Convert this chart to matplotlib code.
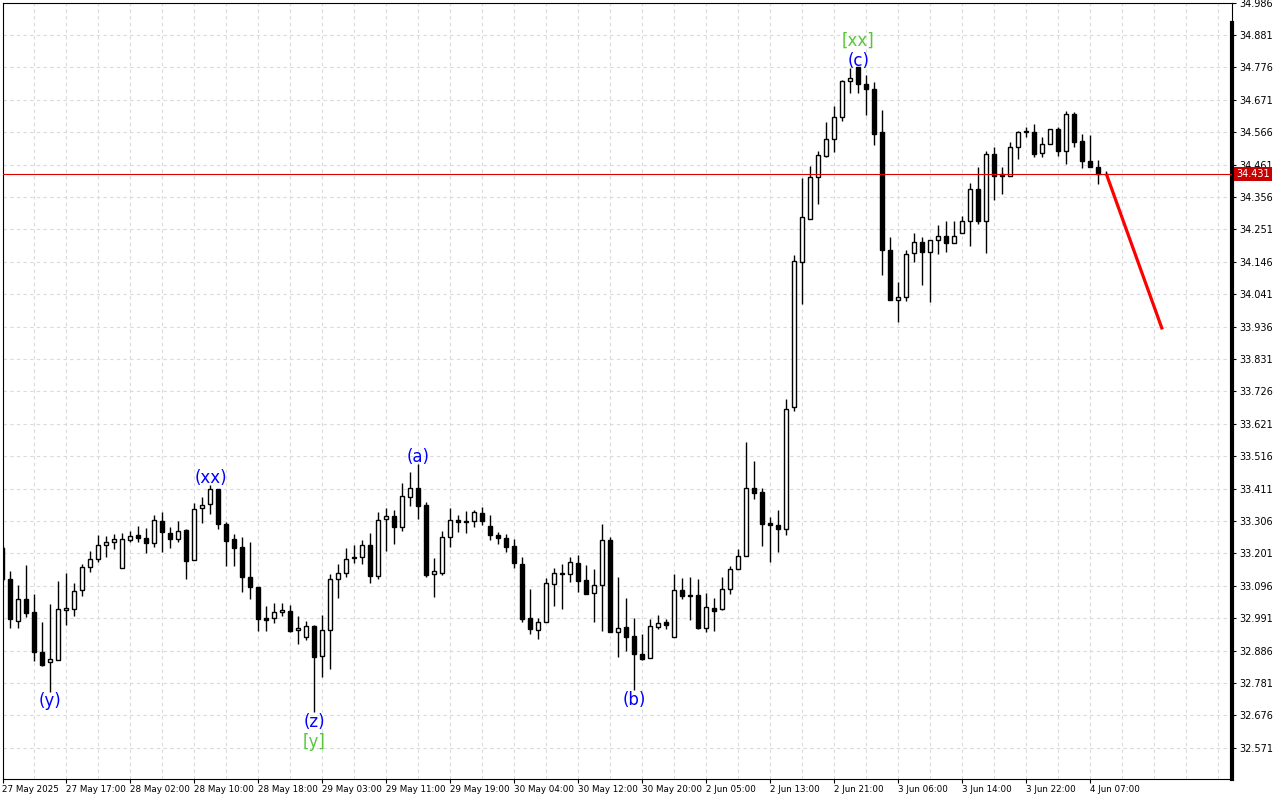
import matplotlib
matplotlib.use('Agg')
import matplotlib.pyplot as plt
from matplotlib.lines import Line2D
from matplotlib.transforms import blended_transform_factory

# hourly candles (price units)
opens = [33.218, 33.118, 32.981, 33.052, 33.010, 32.882, 32.848, 32.857, 33.017, 33.022,
         33.081, 33.156, 33.182, 33.227, 33.238, 33.153, 33.245, 33.260, 33.250, 33.234,
         33.305, 33.267, 33.247, 33.278, 33.179, 33.347, 33.361, 33.409, 33.295, 33.248,
         33.221, 33.125, 33.091, 32.991, 32.992, 33.010, 33.013, 32.952, 32.929, 32.965,
         32.868, 32.952, 33.117, 33.137, 33.189, 33.190, 33.227, 33.129, 33.312, 33.321,
         33.286, 33.384, 33.412, 33.357, 33.133, 33.138, 33.253, 33.308, 33.306, 33.306,
         33.332, 33.289, 33.260, 33.250, 33.224, 33.167, 32.991, 32.952, 32.980, 33.101,
         33.135, 33.134, 33.169, 33.114, 33.074, 33.098, 33.244, 32.945, 32.962, 32.932,
         32.874, 32.861, 32.964, 32.979, 32.929, 33.081, 33.066, 33.065, 32.960, 33.024,
         33.022, 33.085, 33.150, 33.192, 33.412, 33.399, 33.299, 33.292, 33.279, 33.674,
         34.144, 34.284, 34.420, 34.490, 34.543, 34.614, 34.731, 34.776, 34.724, 34.705,
         34.566, 34.183, 34.022, 34.031, 34.174, 34.209, 34.177, 34.216, 34.231, 34.206,
         34.238, 34.280, 34.381, 34.277, 34.494, 34.430, 34.424, 34.517, 34.566, 34.566,
         34.499, 34.527, 34.576, 34.504, 34.624, 34.537, 34.472, 34.453, 34.431]
highs = [33.225, 33.144, 33.099, 33.163, 33.069, 32.979, 33.037, 33.112, 33.137, 33.106,
         33.167, 33.210, 33.261, 33.258, 33.264, 33.268, 33.274, 33.290, 33.282, 33.325,
         33.334, 33.287, 33.306, 33.280, 33.363, 33.383, 33.423, 33.410, 33.302, 33.264,
         33.253, 33.238, 33.091, 33.032, 33.039, 33.039, 33.034, 32.998, 32.981, 32.968,
         33.000, 33.133, 33.166, 33.219, 33.227, 33.244, 33.266, 33.335, 33.347, 33.342,
         33.430, 33.465, 33.490, 33.367, 33.185, 33.275, 33.347, 33.325, 33.338, 33.342,
         33.351, 33.325, 33.270, 33.264, 33.249, 33.188, 33.086, 32.993, 33.121, 33.153,
         33.167, 33.188, 33.196, 33.163, 33.150, 33.296, 33.254, 33.125, 33.056, 32.992,
         32.939, 32.988, 33.001, 32.988, 33.135, 33.120, 33.124, 33.117, 33.072, 33.056,
         33.125, 33.160, 33.215, 33.563, 33.500, 33.412, 33.319, 33.342, 33.701, 34.168,
         34.418, 34.456, 34.505, 34.600, 34.651, 34.735, 34.773, 34.776, 34.751, 34.729,
         34.638, 34.226, 34.080, 34.184, 34.239, 34.225, 34.216, 34.265, 34.280, 34.278,
         34.294, 34.401, 34.454, 34.504, 34.519, 34.453, 34.533, 34.571, 34.584, 34.594,
         34.550, 34.576, 34.582, 34.636, 34.631, 34.560, 34.556, 34.476, 34.440]
lows = [33.112, 32.960, 32.960, 32.994, 32.852, 32.837, 32.753, 32.857, 32.970, 32.998,
        33.064, 33.140, 33.174, 33.188, 33.214, 33.153, 33.237, 33.237, 33.203, 33.221,
        33.205, 33.220, 33.239, 33.117, 33.179, 33.299, 33.328, 33.279, 33.161, 33.161,
        33.075, 33.052, 32.951, 32.951, 32.975, 32.998, 32.947, 32.906, 32.920, 32.687,
        32.801, 32.827, 33.057, 33.124, 33.169, 33.166, 33.106, 33.117, 33.208, 33.231,
        33.275, 33.354, 33.312, 33.124, 33.059, 33.132, 33.223, 33.269, 33.266, 33.288,
        33.292, 33.245, 33.232, 33.207, 33.154, 32.978, 32.941, 32.924, 32.978, 33.030,
        33.022, 33.109, 33.077, 33.070, 32.979, 32.950, 32.945, 32.866, 32.885, 32.758,
        32.857, 32.861, 32.955, 32.957, 32.929, 33.054, 32.986, 32.957, 32.947, 32.951,
        33.019, 33.069, 33.150, 33.192, 33.376, 33.226, 33.174, 33.207, 33.261, 33.663,
        34.009, 34.284, 34.332, 34.487, 34.501, 34.603, 34.692, 34.694, 34.623, 34.524,
        34.104, 34.021, 33.952, 34.020, 34.146, 34.071, 34.017, 34.170, 34.179, 34.206,
        34.238, 34.198, 34.268, 34.174, 34.345, 34.366, 34.424, 34.478, 34.550, 34.485,
        34.485, 34.527, 34.488, 34.463, 34.518, 34.451, 34.452, 34.400, 34.431]
closes = [33.117, 32.987, 33.052, 33.009, 32.882, 32.840, 32.858, 33.020, 33.024, 33.078,
          33.156, 33.182, 33.227, 33.238, 33.249, 33.247, 33.258, 33.250, 33.234, 33.308,
          33.269, 33.247, 33.274, 33.175, 33.344, 33.357, 33.409, 33.295, 33.240, 33.220,
          33.126, 33.091, 32.987, 32.986, 33.010, 33.017, 32.951, 32.958, 32.965, 32.866,
          32.952, 33.117, 33.137, 33.183, 33.185, 33.227, 33.129, 33.308, 33.321, 33.286,
          33.386, 33.412, 33.354, 33.132, 33.143, 33.253, 33.308, 33.302, 33.303, 33.335,
          33.305, 33.260, 33.250, 33.223, 33.169, 32.989, 32.955, 32.980, 33.104, 33.137,
          33.138, 33.172, 33.113, 33.070, 33.098, 33.244, 32.945, 32.958, 32.929, 32.874,
          32.860, 32.965, 32.975, 32.970, 33.081, 33.064, 33.063, 32.959, 33.026, 33.015,
          33.085, 33.150, 33.192, 33.412, 33.398, 33.298, 33.293, 33.279, 33.668, 34.148,
          34.290, 34.420, 34.491, 34.544, 34.614, 34.732, 34.741, 34.724, 34.705, 34.562,
          34.183, 34.021, 34.031, 34.170, 34.209, 34.177, 34.216, 34.231, 34.206, 34.231,
          34.280, 34.381, 34.279, 34.494, 34.425, 34.424, 34.517, 34.566, 34.570, 34.496,
          34.527, 34.576, 34.504, 34.624, 34.535, 34.472, 34.452, 34.430, 34.431]

# time axis labels, one every 8 bars
time_labels = ['27 May 2025', '27 May 17:00', '28 May 02:00', '28 May 10:00', '28 May 18:00',
               '29 May 03:00', '29 May 11:00', '29 May 19:00', '30 May 04:00', '30 May 12:00',
               '30 May 20:00', '2 Jun 05:00', '2 Jun 13:00', '2 Jun 21:00', '3 Jun 06:00',
               '3 Jun 14:00', '3 Jun 22:00', '4 Jun 07:00']
price_ticks = [34.986, 34.881, 34.776, 34.671, 34.566, 34.461, 34.356, 34.251, 34.146, 34.041,
               33.936, 33.831, 33.726, 33.621, 33.516, 33.411, 33.306, 33.201, 33.096, 32.991,
               32.886, 32.781, 32.676, 32.571]
last_price = 34.431

# wave marks: text, bar it belongs to, above/below, stack level
wave_text = ['(y)', '(xx)', '(z)', '[y]', '(a)', '(b)', '(c)', '[xx]']
wave_bar = [6, 26, 39, 39, 52, 79, 107, 107]
wave_side = ['low', 'high', 'low', 'low', 'high', 'low', 'high', 'high']
wave_level = [0, 0, 0, 1, 0, 0, 0, 1]
wave_color = ['blue', 'blue', 'blue', '#55C83A', 'blue', 'blue', 'blue', '#55C83A']

# forecast arrow
forecast_x = [138, 145]
forecast_y = [34.431, 33.927]

n = len(opens)
W, H = 1280, 800
fig = plt.figure(figsize=(12.8, 8), dpi=100)
x0, x1, y_top, y_bot = 2.5, 1232, 2.7, 779
ax = fig.add_axes([x0 / W, 1 - y_bot / H, (x1 - x0) / W, (y_bot - y_top) / H])
ax.set_xlim((x0 - 2.3) / 8, (x1 - 2.3) / 8)
ax.set_ylim(32.4699, 34.9857)

# grid
grid_kw = dict(color='#DADADA', lw=0.8, ls=(0, (3, 3)), zorder=0)
for p in price_ticks:
    ax.axhline(p, **grid_kw)
for gx in range(0, 156, 4):
    ax.axvline(gx, **grid_kw)

# candles
for i in range(n):
    up = closes[i] >= opens[i]
    ax.vlines(i, lows[i], highs[i], color='black', lw=1.0, zorder=2)
    lo = min(opens[i], closes[i])
    h = max(abs(closes[i] - opens[i]), 0.0008)
    ax.bar(i, h, 0.5, bottom=lo, color='white' if up else 'black',
           edgecolor='black', lw=1.0, zorder=3)

# bid line + forecast
ax.axhline(last_price, color='#E00000', lw=0.8, zorder=4)
ax.plot(forecast_x, forecast_y, color='#FF0000', lw=2.3, zorder=5, solid_capstyle='butt')

# wave labels
for t, b, s, lev, c in zip(wave_text, wave_bar, wave_side, wave_level, wave_color):
    if s == 'low':
        ax.annotate(t, xy=(b, lows[b]), xytext=(0, -0.5 - 14.5 * lev), textcoords='offset points',
                    ha='center', va='top', color=c, fontsize=12, zorder=6)
    else:
        ax.annotate(t, xy=(b, highs[b]), xytext=(0, -1.5 + 14 * lev), textcoords='offset points',
                    ha='center', va='bottom', color=c, fontsize=12, zorder=6)

# axes
ax.set_xticks(range(0, n, 8))
ax.set_xticklabels(time_labels, ha='left')
ax.yaxis.tick_right()
ax.set_yticks(price_ticks)
ax.set_yticklabels([f'{v:.3f}' for v in price_ticks])
ax.tick_params(axis='x', length=3, width=0.8, pad=1.5, labelsize=6.3)
ax.tick_params(axis='y', length=3, width=0.8, pad=2, labelsize=7)
for sp in ax.spines.values():
    sp.set_linewidth(0.8)
ax.add_line(Line2D([1, 1], [0, 1 - 20 / (y_bot - y_top)], transform=ax.transAxes,
                   color='black', lw=3, clip_on=False))

# current price tag
tr = blended_transform_factory(ax.transAxes, ax.transData)
ax.annotate(f'{last_price:.3f}', xy=(1, last_price), xycoords=tr, xytext=(3, 0),
            textcoords='offset points', ha='left', va='center', color='white', fontsize=7,
            bbox=dict(boxstyle='square,pad=0.2', fc='#C80000', ec='none'),
            annotation_clip=False, zorder=7)

fig.savefig('out.png', dpi=100)
